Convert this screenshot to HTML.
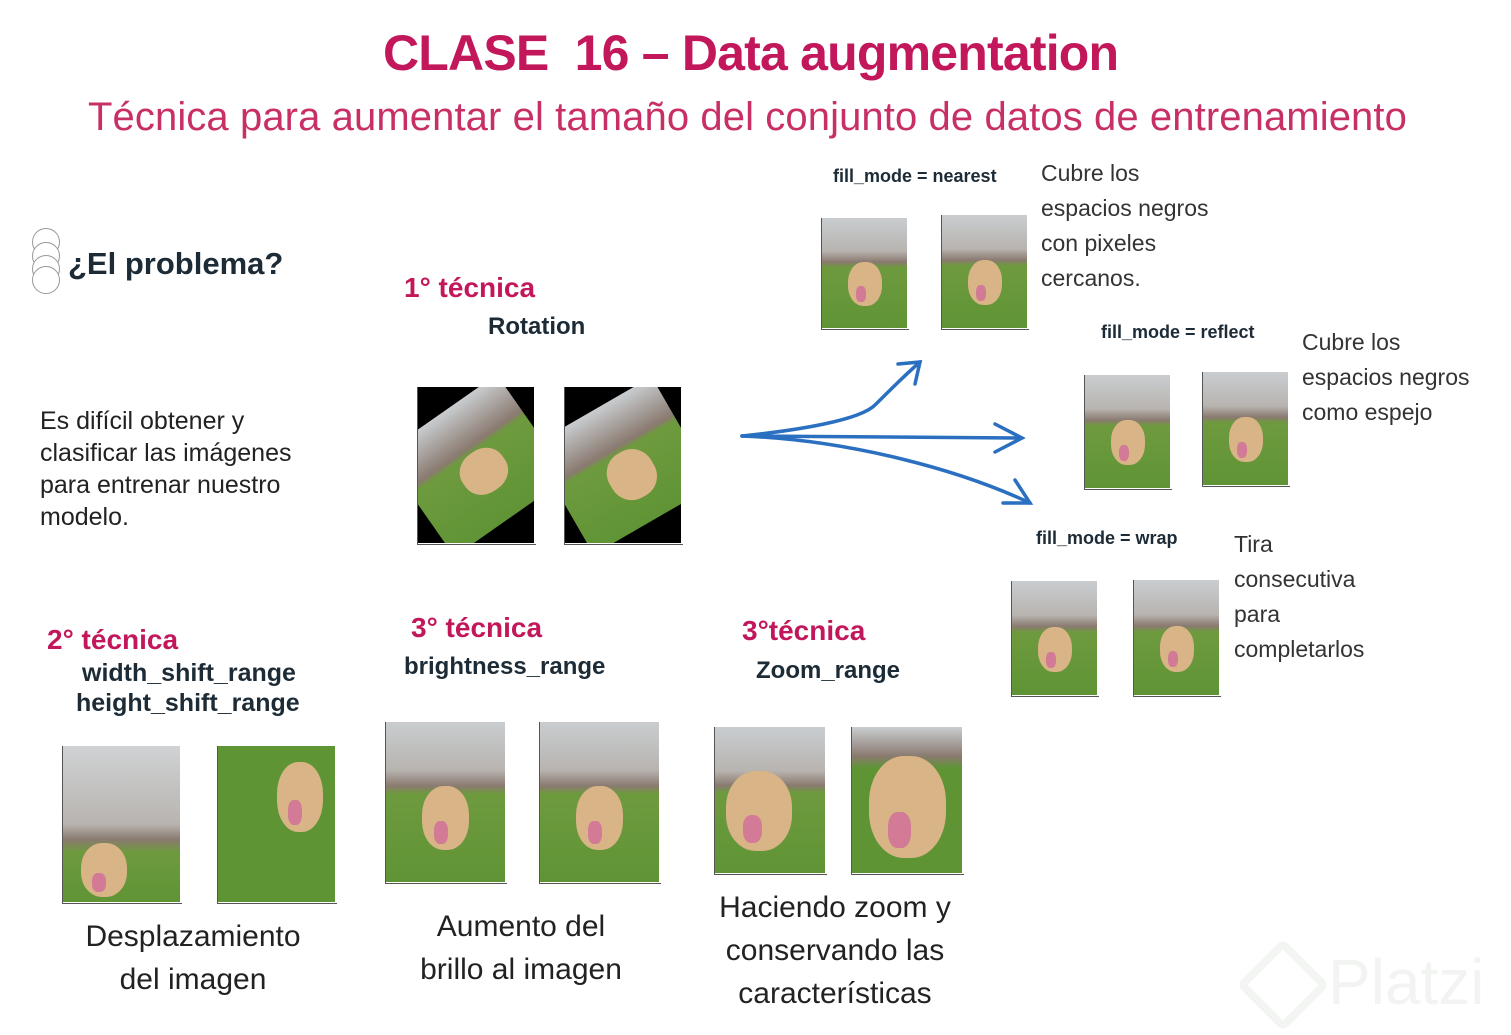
<!DOCTYPE html>
<html><head><meta charset="utf-8"><style>
body{margin:0;width:1511px;height:1035px;background:#fff;position:relative;overflow:hidden;font-family:"Liberation Sans",sans-serif}
.a{position:absolute;white-space:nowrap}
.t{color:#c2185b;font-weight:bold;font-size:28px}
.h{color:#1c2b36;font-weight:bold;font-size:24px}
.fm{color:#1c2b36;font-weight:bold;font-size:18px}
.tx{color:#333;font-size:23px;line-height:35px;white-space:normal}
.cap{color:#222;font-size:30px;line-height:43px;text-align:center}
.im{position:absolute;overflow:hidden;background:linear-gradient(#c9cdd0 0%,#b8b4b0 30%,#8a7a70 40%,#6e9a3e 45%,#5f9435 100%)}
.im .d{position:absolute;left:30%;top:40%;width:40%;height:40%;background:#d9b486;border-radius:45%}
.im .d:after{content:"";position:absolute;left:25%;top:55%;width:30%;height:35%;background:#d27a96;border-radius:40%}
.bk{background:#000}
.in{position:absolute;left:-10%;top:10%;width:120%;height:80%;background:linear-gradient(#c9cdd0 0%,#8a7a70 35%,#6e9a3e 40%,#5f9435 100%)}
.ax{position:absolute;border-left:1px solid #555;border-bottom:1px solid #555}
</style></head><body>
<div class="a" style="left:383px;top:24px;font-size:50px;font-weight:bold;color:#c2185b;letter-spacing:-0.8px">CLASE&nbsp; 16 – Data augmentation</div>
<div class="a" style="left:88px;top:95px;font-size:40px;color:#c72f66;letter-spacing:0.1px">Técnica para aumentar el tamaño del conjunto de datos de entrenamiento</div>

<div class="a" style="left:32px;top:228px;width:26px;height:26px;border:1.5px solid #999;border-radius:50%"></div>
<div class="a" style="left:32px;top:242px;width:26px;height:26px;border:1.5px solid #999;border-radius:50%;background:#fff"></div>
<div class="a" style="left:32px;top:255px;width:26px;height:26px;border:1.5px solid #999;border-radius:50%;background:#fff"></div>
<div class="a" style="left:32px;top:266px;width:26px;height:26px;border:1.5px solid #999;border-radius:50%;background:#fff"></div>
<div class="a" style="left:68px;top:246px;font-size:31px;font-weight:bold;color:#1c2b36">¿El problema?</div>
<div class="a tx" style="left:40px;top:405px;width:290px;font-size:25px;line-height:32px;color:#222">Es difícil obtener y clasificar las imágenes para entrenar nuestro modelo.</div>

<div class="a t" style="left:404px;top:272px">1° técnica</div>
<div class="a h" style="left:488px;top:313px">Rotation</div>
<div class="ax" style="left:417px;top:387px;width:118px;height:157px"></div>
<div class="im bk" style="left:418px;top:387px;width:116px;height:156px"><div class="in" style="transform:rotate(-35deg)"><div style="position:absolute;left:35%;top:40%;width:35%;height:35%;background:#d9b486;border-radius:45%"></div></div></div>
<div class="ax" style="left:564px;top:387px;width:118px;height:157px"></div>
<div class="im bk" style="left:565px;top:387px;width:116px;height:156px"><div class="in" style="transform:rotate(-30deg)"><div style="position:absolute;left:35%;top:40%;width:35%;height:40%;background:#d9b486;border-radius:45%"></div></div></div>

<svg class="a" style="left:0;top:0" width="1511" height="1035"><g fill="none" stroke="#2a6fc0" stroke-width="3.5" stroke-linecap="round">
<path d="M742 436 C800 430 860 420 875 405 C890 390 905 375 920 362"/><path d="M898 364 L920 362 L915 384"/>
<path d="M742 436 L1022 438"/><path d="M995 424 L1022 438 L995 452"/>
<path d="M742 436 C850 440 960 470 1030 503"/><path d="M1003 503 L1030 503 L1015 480"/></g></svg>

<div class="a fm" style="left:833px;top:166px">fill_mode = nearest</div>
<div class="ax" style="left:821px;top:218px;width:87px;height:111px"></div>
<div class="im" style="left:822px;top:218px;width:85px;height:110px"><div class="d"></div></div>
<div class="ax" style="left:941px;top:215px;width:87px;height:114px"></div>
<div class="im" style="left:942px;top:215px;width:85px;height:113px"><div class="d"></div></div>
<div class="a tx" style="left:1041px;top:156px;width:190px">Cubre los<br>espacios negros<br>con pixeles<br>cercanos.</div>

<div class="a fm" style="left:1101px;top:322px">fill_mode = reflect</div>
<div class="ax" style="left:1084px;top:375px;width:87px;height:114px"></div>
<div class="im" style="left:1085px;top:375px;width:85px;height:113px"><div class="d"></div></div>
<div class="ax" style="left:1202px;top:372px;width:87px;height:114px"></div>
<div class="im" style="left:1203px;top:372px;width:85px;height:113px"><div class="d"></div></div>
<div class="a tx" style="left:1302px;top:325px;width:200px">Cubre los<br>espacios negros<br>como espejo</div>

<div class="a fm" style="left:1036px;top:528px">fill_mode = wrap</div>
<div class="ax" style="left:1011px;top:581px;width:87px;height:115px"></div>
<div class="im" style="left:1012px;top:581px;width:85px;height:114px"><div class="d"></div></div>
<div class="ax" style="left:1133px;top:580px;width:87px;height:116px"></div>
<div class="im" style="left:1134px;top:580px;width:85px;height:115px"><div class="d"></div></div>
<div class="a tx" style="left:1234px;top:527px;width:160px">Tira<br>consecutiva<br>para<br>completarlos</div>

<div class="a t" style="left:47px;top:624px">2° técnica</div>
<div class="a h" style="left:82px;top:659px;font-size:25px">width_shift_range</div>
<div class="a h" style="left:76px;top:689px;font-size:25px">height_shift_range</div>
<div class="ax" style="left:62px;top:746px;width:119px;height:157px"></div>
<div class="im" style="left:63px;top:746px;width:117px;height:156px;background:linear-gradient(#d0d2d4 0%,#b8b4b0 50%,#8a7a70 60%,#6e9a3e 68%,#5f9435 100%)"><div class="d" style="top:62%;left:15%;height:35%"></div></div>
<div class="ax" style="left:217px;top:746px;width:119px;height:157px"></div>
<div class="im" style="left:218px;top:746px;width:117px;height:156px;background:#5f9435"><div class="d" style="top:10%;left:50%;height:45%"></div></div>
<div class="a cap" style="left:43px;top:915px;width:300px">Desplazamiento<br>del imagen</div>

<div class="a t" style="left:411px;top:612px">3° técnica</div>
<div class="a h" style="left:404px;top:653px">brightness_range</div>
<div class="ax" style="left:385px;top:722px;width:121px;height:161px"></div>
<div class="im" style="left:386px;top:722px;width:119px;height:160px"><div class="d"></div></div>
<div class="ax" style="left:539px;top:722px;width:121px;height:161px"></div>
<div class="im" style="left:540px;top:722px;width:119px;height:160px"><div class="d"></div></div>
<div class="a cap" style="left:371px;top:905px;width:300px">Aumento del<br>brillo al imagen</div>

<div class="a t" style="left:742px;top:615px">3°técnica</div>
<div class="a h" style="left:756px;top:657px">Zoom_range</div>
<div class="ax" style="left:714px;top:727px;width:112px;height:147px"></div>
<div class="im" style="left:715px;top:727px;width:110px;height:146px"><div class="d" style="left:10%;top:30%;width:60%;height:55%"></div></div>
<div class="ax" style="left:851px;top:727px;width:112px;height:147px"></div>
<div class="im" style="left:852px;top:727px;width:110px;height:146px;background:linear-gradient(#c9cdd0,#8a7a70 20%,#5f9435 28%)"><div class="d" style="left:15%;top:20%;width:70%;height:70%"></div></div>
<div class="a cap" style="left:685px;top:886px;width:300px">Haciendo zoom y<br>conservando las<br>características</div>

<div class="a" style="left:1250px;top:952px;width:50px;height:50px;border:8px solid #f2f5f2;transform:rotate(45deg);border-radius:8px"></div>
<div class="a" style="left:1328px;top:945px;font-size:64px;color:#f2f4f2">Platzi</div>
</body></html>
